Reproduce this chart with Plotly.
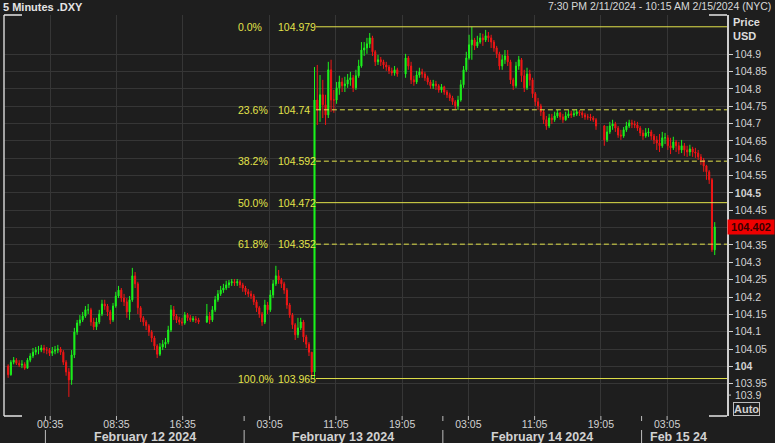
import pandas as pd
import plotly.graph_objects as go

# ---------------- data (20-minute bars) ----------------
bar_start = "2024-02-11 19:30"
bar_minutes = 20
first_open = 104.001

close = [
    103.976, 104.012, 104.018, 104.009, 104.004, 104.006, 103.995, 104.018, 104.030, 104.041,
    104.047, 104.047, 104.053, 104.047, 104.047, 104.038, 104.044, 104.047, 104.050, 104.041,
    104.012, 103.984, 103.961, 104.033, 104.099, 104.125, 104.134, 104.145, 104.163, 104.163,
    104.128, 104.114, 104.128, 104.151, 104.180, 104.174, 104.157, 104.134, 104.174, 104.203,
    104.220, 104.197, 104.186, 104.157, 104.192, 104.261, 104.238, 104.169, 104.140, 104.128,
    104.117, 104.099, 104.082, 104.059, 104.035, 104.056, 104.064, 104.070, 104.105, 104.163,
    104.145, 104.134, 104.128, 104.125, 104.148, 104.140, 104.134, 104.137, 104.134, 104.128,
    None, None, 104.145, 104.134, 104.163, 104.192, 104.209, 104.220, 104.226, 104.235,
    104.241, 104.244, 104.241, 104.244, 104.235, 104.226, 104.215, 104.209, 104.203, 104.186,
    104.169, 104.151, 104.128, 104.177, 104.163, 104.206, 104.238, 104.261, 104.249, 104.238,
    104.220, 104.177, 104.148, 104.120, 104.091, 104.111, 104.128, 104.085, 104.064, 104.041,
    103.984, 104.768, 104.739, 104.783, 104.754, 104.725, 104.855, 104.768, 104.768, 104.803,
    104.820, 104.809, 104.814, 104.826, 104.832, 104.803, 104.838, 104.866, 104.912, 104.918,
    104.930, 104.947, 104.907, 104.878, 104.884, 104.878, 104.869, 104.863, 104.852, 104.846,
    104.855, 104.843, None, None, 104.889, 104.866, 104.826, 104.820, 104.840, 104.849,
    104.843, 104.832, 104.820, 104.809, 104.814, 104.809, 104.797, 104.806, 104.791, 104.783,
    104.774, 104.763, 104.751, 104.768, 104.812, 104.855, 104.889, 104.927, 104.941, 104.924,
    104.935, 104.947, 104.941, 104.953, 104.947, 104.935, 104.918, 104.901, 104.866, 104.884,
    104.895, 104.878, 104.826, 104.809, 104.866, 104.884, 104.838, 104.803, 104.843, 104.826,
    104.786, 104.763, 104.751, 104.734, 104.711, 104.693, 104.716, 104.711, 104.722, 104.731,
    104.719, 104.711, 104.722, 104.728, 104.725, 104.728, 104.734, 104.731, 104.725, 104.719,
    104.719, 104.716, 104.711, 104.693, None, None, 104.653, 104.676, 104.693, 104.699,
    104.687, 104.667, 104.664, 104.682, 104.693, 104.702, 104.699, 104.696, 104.687, 104.673,
    104.664, 104.673, 104.676, 104.664, 104.653, 104.644, 104.636, 104.659, 104.659, 104.636,
    104.630, 104.647, 104.636, 104.624, 104.636, 104.624, 104.618, 104.627, 104.618, 104.615,
    104.604, 104.595, 104.578, 104.561, 104.538, 104.336, 104.402,
]

high = [
    104.006, 104.018, 104.027, 104.024, 104.018, 104.018, 104.012, 104.024, 104.038, 104.053,
    104.056, 104.059, 104.062, 104.062, 104.056, 104.053, 104.056, 104.059, 104.062, 104.056,
    104.047, 104.018, 103.995, 104.047, 104.111, 104.134, 104.148, 104.157, 104.174, 104.180,
    104.169, 104.140, 104.140, 104.163, 104.192, 104.192, 104.180, 104.163, 104.183, 104.215,
    104.232, 104.226, 104.209, 104.197, 104.203, 104.284, 104.272, 104.244, 104.174, 104.145,
    104.134, 104.122, 104.105, 104.088, 104.064, 104.067, 104.076, 104.082, 104.117, 104.177,
    104.174, 104.151, 104.143, 104.140, 104.157, 104.154, 104.148, 104.145, 104.145, 104.140,
    None, None, 104.180, 104.157, 104.174, 104.203, 104.220, 104.232, 104.238, 104.247,
    104.249, 104.252, 104.252, 104.252, 104.249, 104.241, 104.232, 104.223, 104.218, 104.209,
    104.192, 104.174, 104.157, 104.192, 104.186, 104.220, 104.249, 104.290, 104.278, 104.255,
    104.244, 104.226, 104.183, 104.154, 104.125, 104.140, 104.140, 104.134, 104.091, 104.070,
    104.041, 104.863, 104.869, 104.840, 104.826, 104.783, 104.878, 104.884, 104.797, 104.820,
    104.838, 104.832, 104.835, 104.843, 104.849, 104.840, 104.855, 104.884, 104.935, 104.935,
    104.947, 104.961, 104.953, 104.912, 104.898, 104.892, 104.884, 104.878, 104.869, 104.861,
    104.866, 104.861, None, None, 104.901, 104.895, 104.878, 104.838, 104.852, 104.861,
    104.858, 104.849, 104.838, 104.826, 104.826, 104.823, 104.814, 104.814, 104.809, 104.797,
    104.789, 104.780, 104.768, 104.780, 104.826, 104.866, 104.907, 104.956, 104.979, 104.947,
    104.953, 104.961, 104.959, 104.970, 104.964, 104.956, 104.941, 104.924, 104.907, 104.898,
    104.912, 104.912, 104.884, 104.832, 104.878, 104.895, 104.889, 104.855, 104.861, 104.855,
    104.832, 104.791, 104.774, 104.757, 104.739, 104.722, 104.728, 104.728, 104.734, 104.739,
    104.734, 104.728, 104.734, 104.739, 104.737, 104.739, 104.742, 104.739, 104.737, 104.731,
    104.728, 104.728, 104.722, 104.716, None, None, 104.696, 104.693, 104.705, 104.711,
    104.705, 104.693, 104.682, 104.690, 104.705, 104.711, 104.711, 104.708, 104.705, 104.693,
    104.682, 104.687, 104.687, 104.682, 104.670, 104.664, 104.670, 104.676, 104.673, 104.667,
    104.659, 104.662, 104.653, 104.647, 104.653, 104.644, 104.636, 104.639, 104.633, 104.630,
    104.624, 104.612, 104.601, 104.581, 104.566, 104.543, 104.416,
]

low = [
    103.967, 103.973, 104.006, 104.004, 103.998, 103.995, 103.990, 103.993, 104.012, 104.024,
    104.033, 104.035, 104.041, 104.038, 104.035, 104.030, 104.030, 104.035, 104.038, 104.033,
    104.004, 103.973, 103.912, 103.947, 104.024, 104.091, 104.117, 104.128, 104.140, 104.151,
    104.117, 104.105, 104.105, 104.122, 104.145, 104.163, 104.145, 104.122, 104.128, 104.169,
    104.197, 104.186, 104.174, 104.140, 104.134, 104.186, 104.226, 104.151, 104.128, 104.117,
    104.105, 104.088, 104.070, 104.047, 104.024, 104.030, 104.047, 104.053, 104.064, 104.099,
    104.134, 104.125, 104.120, 104.117, 104.120, 104.131, 104.128, 104.128, 104.125, 104.122,
    None, None, 104.125, 104.122, 104.128, 104.157, 104.186, 104.203, 104.212, 104.220,
    104.226, 104.232, 104.232, 104.232, 104.226, 104.215, 104.206, 104.200, 104.194, 104.177,
    104.157, 104.140, 104.117, 104.122, 104.151, 104.157, 104.197, 104.232, 104.238, 104.226,
    104.209, 104.166, 104.140, 104.108, 104.076, 104.082, 104.105, 104.070, 104.053, 104.030,
    103.973, 103.965, 104.696, 104.705, 104.716, 104.696, 104.716, 104.734, 104.731, 104.757,
    104.783, 104.791, 104.791, 104.803, 104.809, 104.791, 104.797, 104.832, 104.861, 104.895,
    104.901, 104.918, 104.895, 104.866, 104.869, 104.866, 104.858, 104.852, 104.843, 104.838,
    104.838, 104.835, None, None, 104.832, 104.855, 104.814, 104.809, 104.814, 104.832,
    104.832, 104.823, 104.812, 104.800, 104.800, 104.797, 104.789, 104.789, 104.783, 104.774,
    104.765, 104.754, 104.742, 104.739, 104.763, 104.803, 104.849, 104.884, 104.884, 104.912,
    104.918, 104.930, 104.924, 104.935, 104.935, 104.918, 104.907, 104.889, 104.855, 104.855,
    104.872, 104.866, 104.814, 104.797, 104.803, 104.855, 104.820, 104.791, 104.797, 104.809,
    104.774, 104.751, 104.739, 104.722, 104.699, 104.682, 104.687, 104.699, 104.705, 104.716,
    104.711, 104.702, 104.708, 104.716, 104.716, 104.719, 104.722, 104.722, 104.716, 104.711,
    104.711, 104.708, 104.705, 104.682, None, None, 104.636, 104.647, 104.670, 104.682,
    104.676, 104.659, 104.653, 104.659, 104.676, 104.687, 104.687, 104.687, 104.679, 104.664,
    104.653, 104.659, 104.662, 104.653, 104.641, 104.624, 104.618, 104.630, 104.641, 104.624,
    104.612, 104.624, 104.618, 104.612, 104.615, 104.607, 104.604, 104.607, 104.604, 104.601,
    104.595, 104.581, 104.561, 104.538, 104.526, 104.330, 104.321,
]

# axis labels
time_tick_vals = ["2024-02-12 00:35", "2024-02-12 08:35", "2024-02-12 16:35",
                  "2024-02-13 03:05", "2024-02-13 11:05", "2024-02-13 19:05",
                  "2024-02-14 03:05", "2024-02-14 11:05", "2024-02-14 19:05",
                  "2024-02-15 03:05"]
time_tick_text = ["00:35", "08:35", "16:35", "03:05", "11:05", "19:05",
                  "03:05", "11:05", "19:05", "03:05"]
day_starts = ["2024-02-12 00:00", "2024-02-13 00:00", "2024-02-14 00:00", "2024-02-15 00:00"]
day_labels = ["February 12 2024", "February 13 2024", "February 14 2024", "Feb 15 24"]
day_label_at = ["2024-02-12 12:00", "2024-02-13 12:00", "2024-02-14 12:00", "2024-02-15 04:30"]

price_tick_vals = [103.95, 104.0, 104.05, 104.1, 104.15, 104.2, 104.25, 104.3, 104.35,
                   104.4, 104.45, 104.5, 104.55, 104.6, 104.65, 104.7, 104.75, 104.8,
                   104.85, 104.9]
price_tick_text = ["103.95", "<b>104</b>", "104.05", "104.1", "104.15", "104.2", "104.25",
                   "104.3", "104.35", "", "104.45", "<b>104.5</b>", "104.55", "104.6",
                   "104.65", "104.7", "104.75", "104.8", "104.85", "104.9"]
price_low_tick = 103.9

# Fibonacci retracement anchors (bars holding the swing low and swing high)
fib_low_bar = "2024-02-13 08:30"
fib_high_bar = "2024-02-14 03:30"
fib_ratios = [0.0, 0.236, 0.382, 0.5, 0.618, 1.0]
fib_labels = ["0.0%", "23.6%", "38.2%", "50.0%", "61.8%", "100.0%"]
fib_dashed = [False, True, True, False, True, False]

x_range = ["2024-02-11 19:00", "2024-02-15 10:19"]
y_range = [103.857, 105.013]

# ---------------- build bars ----------------
times = pd.date_range(bar_start, periods=len(close), freq=f"{bar_minutes}min")
xs, o_, h_, l_, c_ = [], [], [], [], []
prev = first_open
for t, c, h, l in zip(times, close, high, low):
    if c is None:
        continue
    xs.append(t); o_.append(prev); h_.append(h); l_.append(l); c_.append(c)
    prev = c

GREEN = "#1cf21c"
RED = "#f01616"
BG = "#1e1e1e"
GRID = "#363636"
TXT = "#d2d2d2"
FIB = "#e3e34a"
FONT = "Liberation Sans, Arial, sans-serif"
PW = 723.0   # plot width in px
PH = 401.0   # plot height in px

fig = go.Figure()
fig.add_trace(go.Candlestick(
    x=xs, open=o_, high=h_, low=l_, close=c_,
    increasing=dict(line=dict(color=GREEN, width=1), fillcolor=GREEN),
    decreasing=dict(line=dict(color=RED, width=1), fillcolor=RED),
    whiskerwidth=0, showlegend=False, hoverinfo="skip"))

# Fibonacci retracement from the swing low to the swing high
lo_time = pd.Timestamp(fib_low_bar)
hi_time = pd.Timestamp(fib_high_bar)
lo = l_[xs.index(lo_time)]
hi = h_[xs.index(hi_time)]
fib_start = lo_time + pd.Timedelta(minutes=10)
for r, lab, dashed in zip(fib_ratios, fib_labels, fib_dashed):
    lvl = hi - r * (hi - lo)
    fig.add_shape(type="line", xref="x", yref="y", x0=fib_start, x1=x_range[1],
                  y0=lvl, y1=lvl,
                  line=dict(color=FIB, width=1, dash="5px,3px" if dashed else "solid"))
    txt = f"{lvl:.3f}".rstrip("0")
    fig.add_annotation(x=fib_start, y=lvl, xref="x", yref="y", text=lab, showarrow=False,
                       xanchor="left", yanchor="middle", xshift=-80,
                       font=dict(family=FONT, size=10.5, color=FIB))
    fig.add_annotation(x=fib_start, y=lvl, xref="x", yref="y", text=txt, showarrow=False,
                       xanchor="left", yanchor="middle", xshift=-40,
                       font=dict(family=FONT, size=10.5, color=FIB))

# time tick marks (drawn just below the plot)
for tv in time_tick_vals:
    fig.add_shape(type="line", xref="x", yref="paper", x0=tv, x1=tv, y0=0, y1=-4 / PH,
                  line=dict(color="#bdbdbd", width=1))

# day separators & labels under the time axis
for d in day_starts:
    fig.add_shape(type="line", xref="x", yref="paper", x0=d, x1=d, y0=-14 / PH, y1=-27 / PH,
                  line=dict(color="#bdbdbd", width=1))
    fig.add_shape(type="line", xref="x", yref="paper", x0=d, x1=d, y0=0, y1=-5 / PH,
                  line=dict(color="#bdbdbd", width=1))
for lab, at in zip(day_labels, day_label_at):
    fig.add_annotation(x=at, y=-21 / PH, xref="x", yref="paper", text=f"<b>{lab}</b>",
                       showarrow=False, yanchor="middle",
                       font=dict(family=FONT, size=12.5, color=TXT))

# frame: left line, corner brackets
cx = 18 / PW
fig.add_shape(type="line", xref="paper", yref="paper", x0=0, x1=0, y0=0, y1=1,
              line=dict(color="#cfcfcf", width=1.5))
for (x0, x1, y) in [(0, cx, 1), (0, cx, 0), (1 - cx, 1, 1), (1 - cx, 1, 0)]:
    fig.add_shape(type="line", xref="paper", yref="paper", x0=x0, x1=x1, y0=y, y1=y,
                  line=dict(color="#e6e6e6", width=1.5))

# lowest price tick (sits a little higher, next to the Auto button)
fig.add_annotation(x=1, y=price_low_tick, xref="paper", yref="y", text="103.9",
                   showarrow=False, xanchor="left", yshift=6, xshift=6,
                   font=dict(family=FONT, size=10.5, color=TXT))
fig.add_shape(type="line", xref="paper", yref="y", x0=1, x1=1 + 4 / PW,
              ysizemode="pixel", yanchor=price_low_tick, y0=6, y1=6,
              line=dict(color="#cfcfcf", width=1))

# current price tag
last = c_[-1]
fig.add_annotation(x=1, y=last, xref="paper", yref="y", text=f"<b>{last:.3f}</b>",
                   showarrow=False, xanchor="left", yanchor="middle", xshift=0,
                   bgcolor="#ee0000", borderpad=1, width=44,
                   font=dict(family=FONT, size=11, color="#3a0000"))

# header texts
fig.add_annotation(x=0, y=1, xref="paper", yref="paper", text="<b>5 Minutes .DXY</b>",
                   showarrow=False, xanchor="left", yanchor="middle", yshift=8, xshift=-3,
                   font=dict(family=FONT, size=11, color="#e4e4e4"))
fig.add_annotation(x=1, y=1, xref="paper", yref="paper",
                   text="7:30 PM 2/11/2024 - 10:15 AM 2/15/2024 (NYC)",
                   showarrow=False, xanchor="right", yanchor="middle", yshift=9, xshift=46,
                   font=dict(family=FONT, size=10.5, color="#d8d8d8"))
fig.add_annotation(x=1, y=1, xref="paper", yref="paper", text="<b>Price</b><br><b>USD</b>",
                   showarrow=False, xanchor="left", yanchor="top", xshift=4, yshift=1,
                   align="left", font=dict(family=FONT, size=11, color="#dcdcdc"))
fig.add_annotation(x=1, y=0, xref="paper", yref="paper", text="<b>Auto</b>",
                   showarrow=False, xanchor="left", yanchor="bottom", xshift=6, yshift=0,
                   bordercolor="#bdbdbd", borderwidth=1, borderpad=0,
                   font=dict(family=FONT, size=11, color="#d0d0d0"))

fig.update_layout(
    width=775, height=443,
    margin=dict(l=4, r=48, t=15, b=27),
    paper_bgcolor=BG, plot_bgcolor=BG,
    showlegend=False,
    boxgap=0.45,
    xaxis=dict(type="date", range=x_range, rangeslider=dict(visible=False),
               tickvals=time_tick_vals, ticktext=time_tick_text,
               showgrid=True, gridcolor=GRID, gridwidth=1, zeroline=False,
               showline=False, ticks="",
               tickfont=dict(family=FONT, size=10.5, color=TXT)),
    yaxis=dict(side="right", range=y_range, tickvals=price_tick_vals, ticktext=price_tick_text,
               showgrid=True, gridcolor=GRID, gridwidth=1, zeroline=False,
               showline=True, linecolor="#cfcfcf", linewidth=1.5,
               ticks="outside", ticklen=4, tickcolor="#cfcfcf",
               tickfont=dict(family=FONT, size=10.5, color=TXT)),
)

fig.write_html("out.html", config={"displayModeBar": False},
               post_script="document.body.style.margin='0';document.body.style.background='#1e1e1e';")
